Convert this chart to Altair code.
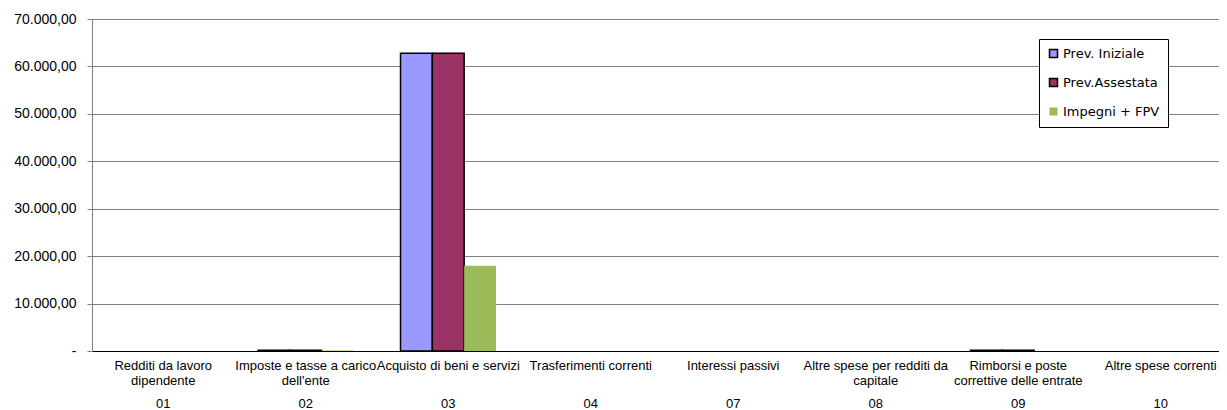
import altair as alt
import pandas as pd

# --- data ---
name_line1 = ["Redditi da lavoro", "Imposte e tasse a carico", "Acquisto di beni e servizi",
              "Trasferimenti correnti", "Interessi passivi", "Altre spese per redditi da",
              "Rimborsi e poste", "Altre spese correnti"]
name_line2 = ["dipendente", "dell'ente", "", "", "", "capitale", "correttive delle entrate", ""]
codes = ["01", "02", "03", "04", "07", "08", "09", "10"]
series = ["Prev. Iniziale", "Prev.Assestata", "Impegni + FPV"]
prev_iniziale = [0, 150, 62800, 0, 0, 0, 150, 0]
prev_assestata = [0, 150, 62800, 0, 0, 0, 150, 0]
impegni_fpv = [0, 100, 18000, 0, 0, 0, 0, 0]
y_ticks = [0, 10000, 20000, 30000, 40000, 50000, 60000, 70000]
fill_colors = ["#9999FF", "#993366", "#9BBB59"]
stroke_colors = ["#000000", "#000000", "transparent"]

cats = ["|".join([a, b, c]) for a, b, c in zip(name_line1, name_line2, codes)]
values = {series[0]: prev_iniziale, series[1]: prev_assestata, series[2]: impegni_fpv}

rows = []
for s in series:
    for cat, v in zip(cats, values[s]):
        if v > 0:
            rows.append({"cat": cat, "serie": s, "val": v})
df = pd.DataFrame(rows)
df_cats = pd.DataFrame({"cat": cats})

x_scale = alt.Scale(domain=cats, paddingInner=0.33, paddingOuter=0.165, range=[0, 1140])

legend = alt.Legend(
    title=None, orient="none", legendX=947, legendY=20,
    symbolType="square", symbolSize=64, symbolStrokeWidth=1.5,
    labelFont="DejaVu Sans", labelFontSize=13, labelColor="#000000", labelOffset=3,
    rowPadding=14, padding=8, strokeColor="#000000", fillColor="#FFFFFF",
)

y_label_expr = ("datum.value == 0 ? '-  ' : replace(replace(replace(format(datum.value, ',.2f'), ',', '#'), '.', ','), '#', '.')")
name_expr = ("split(datum.label, '|')[1] == '' ? split(datum.label, '|')[0] : "
             "[split(datum.label, '|')[0], split(datum.label, '|')[1]]")
code_expr = "split(datum.label, '|')[2]"

bars = alt.Chart(df).mark_bar(strokeWidth=1.5).encode(
    x=alt.X("cat:N", sort=cats, scale=x_scale,
            axis=alt.Axis(title=None, domain=False, ticks=False, labelAngle=0,
                          labelExpr=name_expr,
                          labelFont="Liberation Sans", labelFontSize=13, labelColor="#000000",
                          labelLineHeight=15, labelPadding=8, labelOverlap=False,
                          labelLimit=0)),
    xOffset=alt.XOffset("serie:N", sort=series,
                        scale=alt.Scale(domain=series, paddingInner=0, paddingOuter=0)),
    y=alt.Y("val:Q", scale=alt.Scale(domain=[0, 70000], nice=False),
            axis=alt.Axis(title=None, values=y_ticks, labelExpr=y_label_expr,
                          labelFont="Liberation Sans", labelFontSize=14, labelColor="#000000",
                          labelPadding=11, tickSize=5, tickColor="#808080",
                          domainColor="#808080",
                          gridColor={"condition": {"test": "datum.value === 0", "value": "#000000"},
                                     "value": "#808080"})),
    color=alt.Color("serie:N", sort=series,
                    scale=alt.Scale(domain=series, range=fill_colors), legend=legend),
    stroke=alt.Stroke("serie:N", sort=series,
                      scale=alt.Scale(domain=series, range=stroke_colors), legend=legend),
)

code_axis = alt.Chart(df_cats).mark_point(opacity=0).encode(
    x=alt.X("cat:N", sort=cats, scale=x_scale,
            axis=alt.Axis(title=None, orient="bottom", domain=False, ticks=False, grid=False,
                          labelAngle=0, labelExpr=code_expr, offset=38,
                          labelFont="Liberation Sans", labelFontSize=13, labelColor="#000000",
                          labelPadding=8, labelOverlap=False, labelLimit=0)),
)

chart = alt.layer(bars, code_axis).resolve_axis(x="independent").properties(
    width=1127, height=332,
    autosize=alt.AutoSizeParams(type="none"),
    padding={"left": 84, "top": 11, "right": 0, "bottom": 61},
).configure_view(stroke="transparent")

chart.save("out.html", embed_options={"renderer": "svg", "actions": False})
